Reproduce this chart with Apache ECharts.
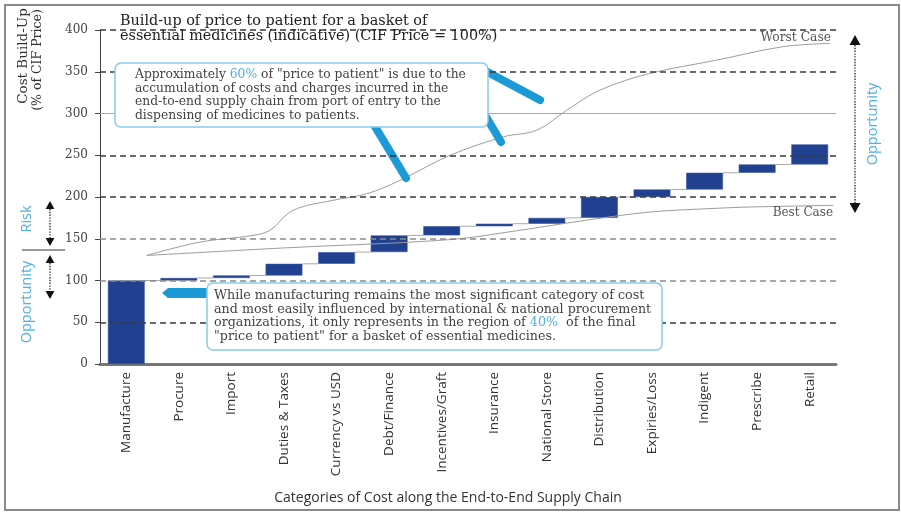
<!DOCTYPE html>
<html>
<head>
<meta charset="utf-8">
<script src="https://cdn.jsdelivr.net/npm/echarts@6/dist/echarts.min.js"></script>
<style>
  html, body { margin: 0; padding: 0; background: #fff; }
  #chart { width: 901px; height: 512px; }
</style>
</head>
<body>
<div id="chart"></div>
<script>
// Cost categories along the supply chain
const categories = ['Manufacture', 'Procure', 'Import', 'Duties & Taxes', 'Currency vs USD',
  'Debt/Finance', 'Incentives/Graft', 'Insurance', 'National Store', 'Distribution',
  'Expiries/Loss', 'Indigent', 'Prescribe', 'Retail'];

// Running total after each category (% of CIF price)
const cumulativeCost = [100, 103, 106, 120, 134, 154, 165, 168, 175, 200, 209, 229, 239, 263];

// Value-axis ticks
const yTicks = [0, 50, 100, 150, 200, 250, 300, 350, 400];

// Scenario envelopes; x is measured in category widths (category i spans i .. i+1)
const worstCaseX = [0.89, 1.90, 2.91, 3.23, 3.67, 4.43, 5.08, 5.71, 6.66, 7.67, 8.31, 8.88, 9.51, 10.46, 11.74, 12.99, 13.89];
const worstCaseY = [130, 146, 154, 160, 184, 196, 204, 220, 250, 272, 280, 304, 328, 348, 364, 380, 384];
const bestCaseX = [0.89, 3.5, 6.66, 7.97, 9.23, 10.46, 11.74, 12.36, 13.95];
const bestCaseY = [130, 139, 149, 160, 172, 182, 186.5, 188, 190];

const baseValues = cumulativeCost.map((v, i) => (i === 0 ? 0 : cumulativeCost[i - 1]));
const stepValues = cumulativeCost.map((v, i) => v - baseValues[i]);

const BLUE = '#1b9ad6';
const LIGHT_BLUE = '#4fb0e4';
const SERIF = '"DejaVu Serif", serif';
const SANS = '"Open Sans", sans-serif';

function arrow(x, y1, y2, head) {
  const w = head * 0.55;
  return [
    { type: 'line', shape: { x1: x, y1: y1 + head, x2: x, y2: y2 - head },
      style: { stroke: '#333', lineWidth: 1.4, lineDash: [1.4, 1.4] } },
    { type: 'polygon', shape: { points: [[x, y1], [x - w, y1 + head], [x + w, y1 + head]] }, style: { fill: '#111' } },
    { type: 'polygon', shape: { points: [[x, y2], [x - w, y2 - head], [x + w, y2 - head]] }, style: { fill: '#111' } }
  ];
}

function vText(text, x, y, size, color, family) {
  return { type: 'text', x: x, y: y, rotation: Math.PI / 2,
    style: { text: text, fill: color, font: size + 'px ' + family, align: 'center', verticalAlign: 'middle' } };
}

function callout(x1, y1, x2, y2) {
  return { type: 'line', shape: { x1, y1, x2, y2 },
    style: { stroke: BLUE, lineWidth: 8, lineCap: 'round' }, z: 5 };
}

const gridLevels = yTicks.filter(v => v > 0).map(v => ({
  yAxis: v,
  lineStyle: v === 300
    ? { type: 'solid', color: '#a8a8a8', width: 1.2 }
    : { type: [6, 4], color: (v === 150 || v === 100) ? '#8a8a8a' : '#3a3a3a', width: 1.6 }
}));

const chart = echarts.init(document.getElementById('chart'));

chart.setOption({
  animation: false,
  backgroundColor: '#fff',
  title: {
    text: 'Build-up of price to patient for a basket of\nessential medicines (indicative) (CIF Price = 100%)',
    left: 115, top: 9,
    textStyle: { fontFamily: SERIF, fontSize: 14.4, fontWeight: 'normal', color: '#222', lineHeight: 15 }
  },
  grid: { left: 100, right: 65, top: 30, bottom: 148 },
  xAxis: [
    {
      type: 'category', data: categories,
      axisLine: { lineStyle: { color: '#777', width: 3 } },
      axisTick: { show: false },
      axisLabel: { rotate: 90, margin: 8, fontFamily: SANS, fontSize: 13.5, color: '#333' }
    },
    { type: 'value', min: 0, max: 14, show: false }
  ],
  yAxis: {
    type: 'value', min: 0, max: 400, interval: 50,
    axisLine: { show: true, lineStyle: { color: '#444', width: 1 } },
    axisTick: { show: true, length: 5, lineStyle: { color: '#444' } },
    splitLine: { show: false },
    axisLabel: { margin: 12, fontFamily: SERIF, fontSize: 12, color: '#444' }
  },
  series: [
    {
      name: 'base', type: 'bar', stack: 'build', data: baseValues, barWidth: '70%',
      itemStyle: { color: 'transparent' }, silent: true, z: 1,
      markLine: { silent: true, symbol: 'none', label: { show: false }, data: gridLevels }
    },
    {
      name: 'cost', type: 'bar', stack: 'build', data: stepValues, barWidth: '70%', z: 3,
      itemStyle: { color: '#21408f', borderColor: '#3556a3', borderWidth: 0.6 }
    },
    {
      name: 'connector', type: 'custom', z: 2,
      data: cumulativeCost.slice(0, -1).map((v, i) => [i, v]),
      renderItem: function (params, api) {
        const i = api.value(0), v = api.value(1);
        const band = api.size([1, 0])[0];
        const p1 = api.coord([i, v]);
        const p2 = api.coord([i + 1, v]);
        return { type: 'line',
          shape: { x1: p1[0] + band * 0.35, y1: p1[1], x2: p2[0] - band * 0.35, y2: p2[1] },
          style: { stroke: '#a8a8a8', lineWidth: 1 } };
      }
    },
    {
      name: 'Worst Case', type: 'line', xAxisIndex: 1, smooth: 0.35, symbol: 'none', z: 4,
      data: worstCaseX.map((x, i) => [x, worstCaseY[i]]),
      lineStyle: { color: '#9d9d9d', width: 1 }
    },
    {
      name: 'Best Case', type: 'line', xAxisIndex: 1, smooth: 0.35, symbol: 'none', z: 4,
      data: bestCaseX.map((x, i) => [x, bestCaseY[i]]),
      lineStyle: { color: '#9d9d9d', width: 1 }
    }
  ],
  graphic: [
    { type: 'rect', shape: { x: 5, y: 5, width: 894, height: 505 },
      style: { fill: 'none', stroke: '#8a8a8a', lineWidth: 2 }, z: 0 },

    // callout strokes (behind the boxes)
    callout(480, 68, 540, 100),
    callout(368, 115, 406, 178),
    callout(485, 115, 501, 142),
    { type: 'polygon', z: 5,
      shape: { points: [[162, 293], [168, 288], [212, 288], [212, 298], [168, 298]] },
      style: { fill: BLUE } },

    // annotation boxes
    { type: 'rect', z: 6, shape: { x: 115, y: 63, width: 373, height: 64, r: 6 },
      style: { fill: '#fff', stroke: '#86cbec', lineWidth: 1.5 } },
    { type: 'text', z: 7, x: 135, y: 68,
      style: {
        text: 'Approximately {b|60%} of "price to patient" is due to the\naccumulation of costs and charges incurred in the\nend-to-end supply chain from port of entry to the\ndispensing of medicines to patients.',
        font: '12.3px ' + SERIF, fill: '#444', lineHeight: 13.6,
        rich: { b: { fill: LIGHT_BLUE, font: '12.3px ' + SERIF } }
      } },
    { type: 'rect', z: 6, shape: { x: 207, y: 283, width: 455, height: 67, r: 6 },
      style: { fill: '#fff', stroke: '#86cbec', lineWidth: 1.5 } },
    { type: 'text', z: 7, x: 214, y: 289,
      style: {
        text: 'While manufacturing remains the most significant category of cost\nand most easily influenced by international & national procurement\norganizations, it only represents in the region of {b|40%}  of the final\n"price to patient" for a basket of essential medicines.',
        font: '12.7px ' + SERIF, fill: '#444', lineHeight: 13.6,
        rich: { b: { fill: LIGHT_BLUE, font: '12.7px ' + SERIF } }
      } },

    // scenario labels
    { type: 'text', z: 7, x: 831, y: 38,
      style: { text: 'Worst Case', font: '12.3px ' + SERIF, fill: '#555', align: 'right', verticalAlign: 'middle' } },
    { type: 'text', z: 7, x: 833, y: 213,
      style: { text: 'Best Case', font: '12px ' + SERIF, fill: '#555', align: 'right', verticalAlign: 'middle' } },

    // opportunity range on the right
    ...arrow(855, 35, 213, 10),
    vText('Opportunity', 873, 124, 14.5, LIGHT_BLUE, SANS),

    // risk / opportunity markers on the left
    ...arrow(50, 201, 246, 8),
    ...arrow(50, 255, 299, 8),
    { type: 'line', shape: { x1: 22, y1: 250, x2: 65, y2: 250 }, style: { stroke: '#333', lineWidth: 1 } },
    vText('Risk', 27, 219, 14.5, LIGHT_BLUE, SANS),
    vText('Opportunity', 27, 302, 14.5, LIGHT_BLUE, SANS),

    // value-axis name
    vText('Cost Build-Up', 23, 56, 13.5, '#333', SERIF),
    vText('(% of CIF Price)', 38, 60, 12.5, '#333', SERIF),

    // category-axis name
    { type: 'text', x: 448, y: 498,
      style: { text: 'Categories of Cost along the End-to-End Supply Chain', font: '14px ' + SANS,
        fill: '#333', align: 'center', verticalAlign: 'middle' } }
  ]
});
</script>
</body>
</html>
